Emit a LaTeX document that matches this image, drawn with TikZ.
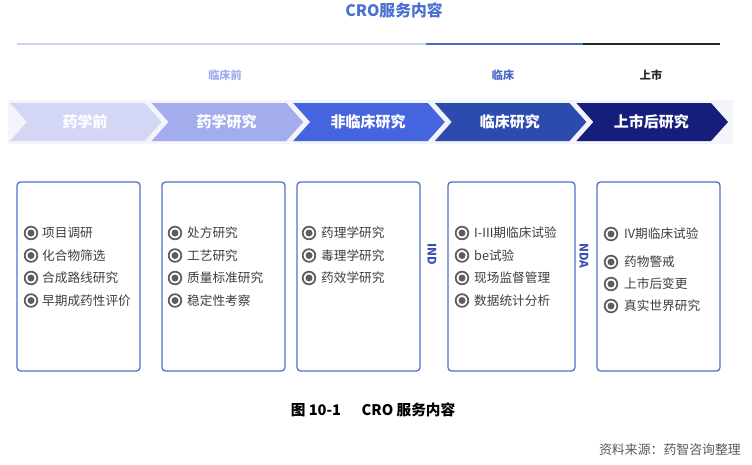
\documentclass[tikz,border=0pt]{standalone}
\usepackage{fontspec}
\setmainfont{Noto Sans CJK SC}
\usepackage{xcolor}
\usepackage{tikz}
\usetikzlibrary{positioning}

\definecolor{titleblue}{HTML}{4B6FD3}
\definecolor{cA}{HTML}{D3D7F5}
\definecolor{cB}{HTML}{A3ACED}
\definecolor{cC}{HTML}{4565DF}
\definecolor{cD}{HTML}{2D4AAE}
\definecolor{cE}{HTML}{161E7C}
\definecolor{lineA}{HTML}{CDD1EF}
\definecolor{lineB}{HTML}{4A6AC8}
\definecolor{boxblue}{HTML}{5073C8}
\definecolor{dotgray}{HTML}{5E5E5E}
\definecolor{itemgray}{HTML}{3E3E3E}
\definecolor{bandgray}{HTML}{F4F5FA}
\definecolor{markblue}{HTML}{3A4FB0}

\begin{document}
\begin{tikzpicture}[
    x=0.03cm, y=-0.03cm,
    stage/.style={font=\fontsize{12.8}{14}\selectfont\bfseries, text=white},
    phase/.style={font=\fontsize{9.5}{11}\selectfont\bfseries},
    panel/.style={rectangle, draw=boxblue, line width=1.1pt, rounded corners=3pt, fill=white, minimum width=3.69cm, minimum height=5.67cm},
    bullet/.style={circle, draw=dotgray, line width=1.5pt, minimum size=0.38cm, inner sep=0pt,
        path picture={\fill[dotgray] (path picture bounding box.center) circle (0.105cm);}},
    item/.style={anchor=west, inner sep=0pt, text=itemgray, font=\fontsize{10.8}{12}\selectfont},
    milestone/.style={rotate=-90, text=markblue, font=\fontsize{10}{11}\selectfont\bfseries}
]
\useasboundingbox[fill=white] (0,0) rectangle (752,464);

% Title and phase line
\node[text=titleblue, font=\fontsize{13.5}{15}\selectfont\bfseries] (title) at (394,10) {CRO服务内容};
\coordinate (l0) at (17,44);
\coordinate (l1) at (426,44);
\coordinate (l2) at (583,44);
\coordinate (l3) at (720,44);
\draw[lineA, line width=1.3pt] (l0) -- (l1);
\draw[lineB, line width=1.3pt] (l1) -- (l2);
\draw[black!85, line width=1.3pt] (l2) -- (l3);
\node[phase, text=cB] (preclin) at (225,75) {临床前};
\node[phase, text=lineB] (clin) at (503,75) {临床};
\node[phase, text=black!85] (market) at (651,75) {上市};

% Stage chevrons
\fill[bandgray] (8,100) rectangle (733,144);
\foreach \i/\col/\txt in {0/cA/药学前, 1/cB/药学研究, 2/cC/非临床研究, 3/cD/临床研究, 4/cE/上市后研究} {
    \pgfmathsetmacro\lx{10+141.6*\i}
    \fill[\col] (\lx,103) -- ++(134.6,0) -- ++(17,19) -- ++(-17,19) -- ++(-134.6,0) -- ++(17,-19) -- cycle;
    \node[stage] (stage\i) at (\lx+75,122) {\txt};
}

% Content boxes
\node[panel] (box1) at (78.5,276.5) {};
\node[panel] (box2) at (223.5,276.5) {};
\node[panel] (box3) at (358.5,276.5) {};
\node[panel, minimum width=3.81cm] (box4) at (511.5,276.5) {};
\node[panel] (box5) at (658.5,276.5) {};

\foreach \t [count=\k] in {项目调研, 化合物筛选, 合成路线研究, 早期成药性评价} {
    \node[bullet] (dotA\k) at (31,210.5+22.5*\k) {};
    \node[item] (itemA\k) at (42,210.5+22.5*\k) {\t};
}
\foreach \t [count=\k] in {处方研究, 工艺研究, 质量标准研究, 稳定性考察} {
    \node[bullet] (dotB\k) at (175,210.5+22.5*\k) {};
    \node[item] (itemB\k) at (187,210.5+22.5*\k) {\t};
}
\foreach \t [count=\k] in {药理学研究, 毒理学研究, 药效学研究} {
    \node[bullet] (dotC\k) at (309,210.5+22.5*\k) {};
    \node[item] (itemC\k) at (321,210.5+22.5*\k) {\t};
}
\foreach \t [count=\k] in {I-III期临床试验, be试验, 现场监督管理, 数据统计分析} {
    \node[bullet] (dotD\k) at (462,210.5+22.5*\k) {};
    \node[item] (itemD\k) at (474,210.5+22.5*\k) {\t};
}
\foreach \t/\y [count=\k] in {IV期临床试验/234, 药物警戒/262, 上市后变更/284, 真实世界研究/306} {
    \node[bullet] (dotE\k) at (611,\y) {};
    \node[item] (itemE\k) at (624,\y) {\t};
}

% Milestones
\node[milestone] (ind) at (432,254) {IND};
\node[milestone] (nda) at (584,256) {NDA};

% Caption and source
\node[font=\fontsize{12.5}{14}\selectfont\bfseries] (caption) at (373,410) {图 10-1\hspace{1.4em}CRO 服务内容};
\node[anchor=east, text=black!65, font=\fontsize{11}{12}\selectfont] (source) at (745,450) {资料来源：药智咨询整理};

\end{tikzpicture}
\end{document}
